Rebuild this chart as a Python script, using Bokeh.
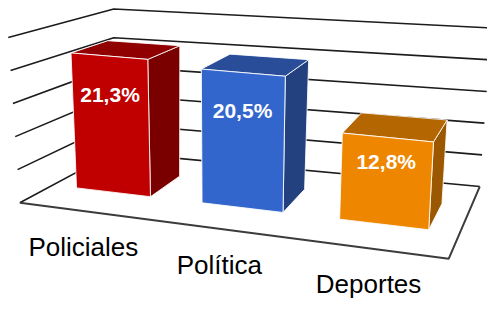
import numpy as np
from bokeh.plotting import figure
from bokeh.models import Range1d, ColumnDataSource
from bokeh.core.properties import value
from bokeh.embed import file_html
from bokeh.resources import INLINE

# ---------------- data ----------------
categories = ["Policiales", "Política", "Deportes"]
values = [21.3, 20.5, 12.8]
value_labels = ["21,3%", "20,5%", "12,8%"]
grid_values = [0, 5, 10, 15, 20, 25]
front_colors = ["#C00000", "#3366CC", "#EF8600"]
side_colors = ["#7A0000", "#23417F", "#9C5800"]
top_colors = ["#900000", "#294D98", "#B46700"]

# ---------------- 3D layout (screen geometry of the chart box) ----------------
YMAX = 25.0
FLB = (20.0, 213.0)    # front-left bottom
FRB = (463.0, 272.0)   # front-right bottom
BLB = (117.0, 160.0)   # back-left bottom
BRB = (495.0, 196.0)   # back-right bottom
V_FL = (-12.0, -174.0)  # vertical vector (0 -> YMAX) at each corner
V_FR = (10.5, -190.0)
V_BL = (0.0, -151.0)
V_BR = (12.0, -167.0)
PERSP = 1.15
BAR_FRONT, BAR_BACK = 0.35, 0.72
BAR_FRAC = 0.6


def su(u):
    return u / (u + PERSP * (1.0 - u))


def proj(u, v, h):
    s = su(u)
    w = h / YMAX

    def bil(a, b, c, d):
        return (1 - s) * (1 - v) * a + s * (1 - v) * b + (1 - s) * v * c + s * v * d

    x = bil(FLB[0], FRB[0], BLB[0], BRB[0]) + w * bil(V_FL[0], V_FR[0], V_BL[0], V_BR[0])
    y = bil(FLB[1], FRB[1], BLB[1], BRB[1]) + w * bil(V_FL[1], V_FR[1], V_BL[1], V_BR[1])
    return x, y


p = figure(width=487, height=299, x_range=Range1d(0, 503), y_range=Range1d(315, 0),
           output_backend="svg", toolbar_location=None,
           x_axis_location=None, y_axis_location=None,
           min_border=0, min_border_left=0, min_border_right=0,
           min_border_top=0, min_border_bottom=0)
p.outline_line_color = None
p.grid.visible = False
p.background_fill_color = "white"
p.border_fill_color = "white"

# floor
floor_pts = [proj(0, 0, 0), proj(1, 0, 0), proj(1, 1, 0), proj(0, 1, 0)]
p.patch([q[0] for q in floor_pts], [q[1] for q in floor_pts],
        fill_color="white", line_color=None)

# gridlines on left wall and back wall
gx, gy = [], []
for g in grid_values:
    a = proj(0, 0, g)
    b = proj(0, 1, g)
    c = proj(1, 1, g)
    gx.append([a[0], b[0], c[0]])
    gy.append([a[1], b[1], c[1]])
p.multi_line(gx, gy, line_color="#1c1c1c", line_width=1.6)

# floor front and right edges
fe = [proj(0, 0, 0), proj(1, 0, 0), proj(1, 1, 0)]
p.line([q[0] for q in fe], [q[1] for q in fe], line_color="#3c3c3c", line_width=2.0)

# bars
xs, ys, fills = [], [], []
for i, val in enumerate(values):
    u0 = (i + (1 - BAR_FRAC) / 2) / len(values)
    u1 = (i + (1 + BAR_FRAC) / 2) / len(values)
    v0, v1 = BAR_FRONT, BAR_BACK
    faces = [
        ([(u1, v0, 0), (u1, v1, 0), (u1, v1, val), (u1, v0, val)], side_colors[i]),
        ([(u0, v0, val), (u1, v0, val), (u1, v1, val), (u0, v1, val)], top_colors[i]),
        ([(u0, v0, 0), (u1, v0, 0), (u1, v0, val), (u0, v0, val)], front_colors[i]),
    ]
    for pts, col in faces:
        pr = [proj(*q) for q in pts]
        xs.append([q[0] for q in pr])
        ys.append([q[1] for q in pr])
        fills.append(col)

src = ColumnDataSource(dict(xs=xs, ys=ys, fill=fills))
p.patches("xs", "ys", source=src, fill_color="fill", line_color="white",
          line_width=1.0, line_alpha=0.85)

# value labels
lx, ly = [], []
for i, val in enumerate(values):
    uc = (i + 0.5) / len(values)
    q = proj(uc, BAR_FRONT, val * 0.72)
    lx.append(q[0])
    ly.append(q[1])
p.text(lx, ly, text=value_labels, text_color="white", text_font=value("Liberation Sans"),
       text_font_style="bold", text_font_size="21px", text_align="center",
       text_baseline="middle")

# category labels
cx, cy = [], []
for i in range(len(categories)):
    uc = (i + 0.5) / len(categories)
    q = proj(uc, 0, 0)
    cx.append(q[0])
    cy.append(q[1] + 38)
p.text(cx, cy, text=categories, text_color="black", text_font=value("Liberation Sans"),
       text_font_size="26px", text_align="center", text_baseline="middle")

open("out.html", "w").write(file_html(p, INLINE))
